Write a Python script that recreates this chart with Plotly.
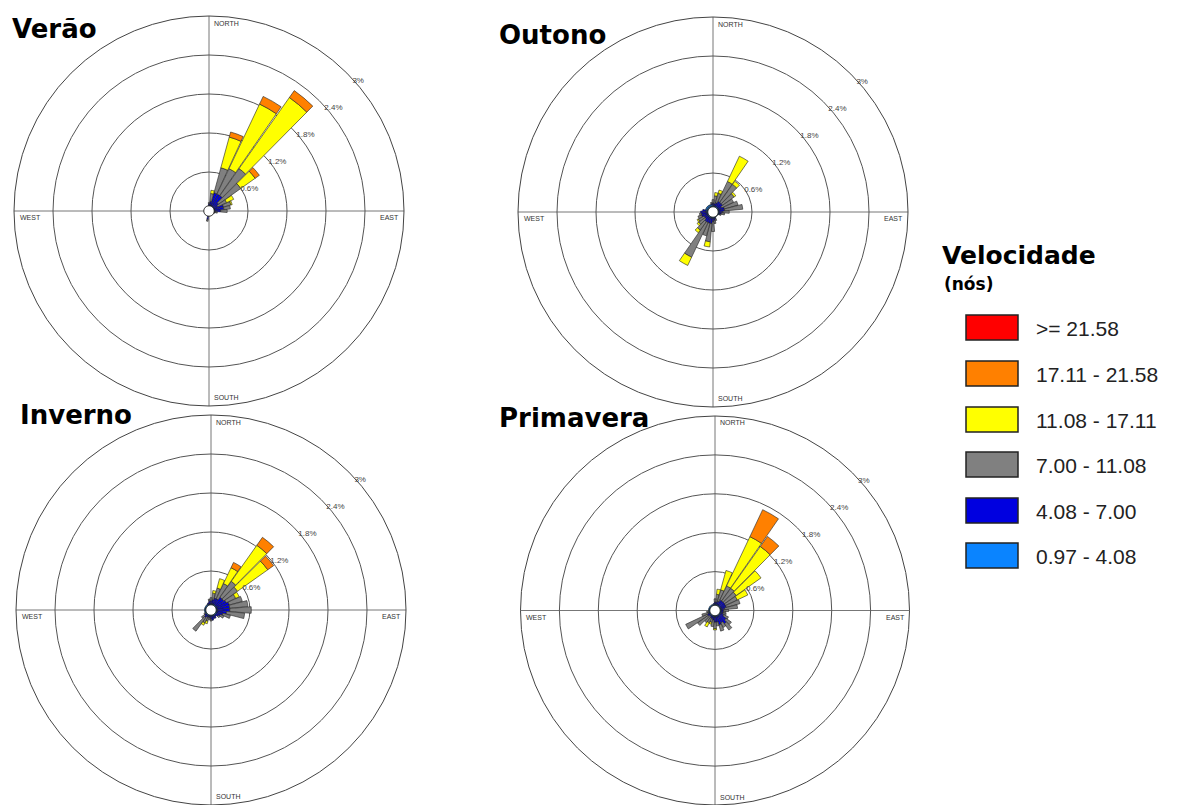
import plotly.graph_objects as go

# ---------------- data ----------------
directions = list(range(10, 361, 10))  # 36 sectors, degrees from north

speed_labels = ["0.97 - 4.08", "4.08 - 7.00", "7.00 - 11.08",
                "11.08 - 17.11", "17.11 - 21.58", ">= 21.58"]
speed_colors = ["#0A84FF", "#0000E0", "#808080", "#FFFF00", "#FF8000", "#FF0000"]

ring_vals = [0.6, 1.2, 1.8, 2.4, 3.0]
ring_text = ["0.6%", "1.2%", "1.8%", "2.4%", "3%"]
calm_radius = 0.08

Z9 = [0] * 9

# Verão (frequencies in % per speed bin, sectors 10..360)
verao_lb = [.09, .09, .09, .09, .09, .09, .09, .09, .09,
            .08, .07, .06, .05, .05, .05, .05, .05, .05,
            .07, .05, .04, .04, .04, .04, .04, .04, .04,
            .04, .04, .04, .04, .04, .04, .05, .06, .08]
verao_blue = [.06, .20, .20, .20, .09, .06, .14, .14, .09,
              .02, 0, 0, 0, 0, 0, 0, 0, 0,
              .06, 0, 0, 0, 0, 0, 0, 0, 0,
              0, 0, 0, 0, 0, 0, 0, 0, .03]
verao_gray = [.12, .40, .43, .51, .42, .15, .12, .10, .10,
              .03, .02, 0, 0, 0, 0, 0, 0, 0,
              .03, 0, 0, 0, 0, 0, 0, 0, 0,
              0, 0, 0, 0, 0, 0, 0, 0, .02]
verao_yellow = [.05, .49, 1.10, 1.34, .27, .12, .02, 0, 0] + Z9 + Z9 + Z9
verao_orange = [0, .08, .13, .13, .08, 0, 0, 0, 0] + Z9 + Z9 + Z9
verao_red = [0] * 36

# Outono
outono_lb = [.10, .10, .10, .10, .10, .10, .10, .10, .10,
             .10, .10, .09, .08, .08, .09, .10, .10, .10,
             .10, .10, .10, .10, .10, .10, .10, .10, .11,
             .11, .12, .12, .12, .12, .12, .12, .12, .11]
outono_blue = [.03, .05, .08, .08, .08, .05, .08, .08, .05,
               .03, .01, 0, 0, 0, 0, .01, .03, .05,
               .08, .08, .08, .08, .05, .05, .08, .08, .08,
               .05, 0, 0, 0, 0, 0, 0, .01, .03]
outono_gray = [.12, .15, .34, .34, .22, .20, .22, .28, .10,
               .05, .02, 0, 0, 0, 0, .03, .05, .15,
               .28, .20, .59, .16, .12, .10, .06, .03, 0,
               0, 0, 0, 0, 0, 0, 0, .02, .05]
outono_yellow = [.05, .05, .43, .06, .03, 0, 0, 0, 0] + Z9 + \
                [.08, 0, .14, .05, .03, .02, 0, 0, 0] + Z9
outono_orange = [0] * 36
outono_red = [0] * 36

# Inverno
inverno_lb = [.10] * 36
inverno_blue = [.06, .09, .09, .14, .14, .16, .19, .19, .19,
                .14, .09, .06, .04, .02, .04, .04, .06, .04,
                .02, .02, .02, .04, .02, 0, 0, 0, 0,
                0, 0, 0, 0, 0, .01, .02, .04, .04]
inverno_gray = [.10, .16, .26, .30, .26, .16, .21, .28, .33,
                .28, .12, .06, .03, 0, 0, 0, 0, .03,
                .03, .06, .10, .26, .06, .02, 0, 0, 0,
                0, 0, 0, 0, 0, 0, 0, .03, .05]
inverno_yellow = [.04, .15, .27, .68, .57, .06, 0, 0, 0] + Z9 + \
                 [0, .04, .04, 0, 0, 0, 0, 0, 0] + Z9
inverno_orange = [0, 0, .09, .15, .11, 0, 0, 0, 0] + Z9 + Z9 + Z9
inverno_red = [0] * 36

# Primavera
primavera_lb = [.10] * 36
primavera_blue = [.03, .05, .08, .08, .08, .08, .08, .05, .03,
                  .03, .03, .05, .11, .15, .11, .13, .08, .08,
                  .05, .03, .03, .01, .03, .03, .01, 0, 0,
                  0, 0, 0, 0, 0, 0, 0, .01, .03]
primavera_gray = [.12, .18, .24, .24, .22, .20, .22, .20, .08,
                  .04, .05, .08, .10, .12, .08, .10, .06, .10,
                  .10, .06, .08, .12, .20, .37, .10, .03, 0,
                  0, 0, 0, 0, 0, 0, 0, 0, .05]
primavera_yellow = [.08, .31, .84, .79, .47, .18, 0, 0, 0] + \
                   [0, 0, 0, 0, 0, 0, 0, 0, .02] + \
                   [0, .03, .07, 0, 0, 0, 0, 0, 0] + Z9
primavera_orange = [0, 0, .46, .19, 0, 0, 0, 0, 0] + Z9 + Z9 + Z9
primavera_red = [0] * 36

season_names = ["Verão", "Outono", "Inverno", "Primavera"]
season_data = [
    [verao_lb, verao_blue, verao_gray, verao_yellow, verao_orange, verao_red],
    [outono_lb, outono_blue, outono_gray, outono_yellow, outono_orange, outono_red],
    [inverno_lb, inverno_blue, inverno_gray, inverno_yellow, inverno_orange, inverno_red],
    [primavera_lb, primavera_blue, primavera_gray, primavera_yellow, primavera_orange, primavera_red],
]

# ---------------- layout geometry (pixels) ----------------
W, H = 1199, 805
R = 195
centers = [(209, 211), (713, 212), (211, 610), (715, 611)]
title_pos = [(10, 29), (497, 35), (18, 415), (497, 418)]

fig = go.Figure()

for k, (name, data) in enumerate(zip(season_names, season_data)):
    pid = "polar" if k == 0 else f"polar{k+1}"
    for vals, lab, col in zip(data, speed_labels, speed_colors):
        fig.add_trace(go.Barpolar(
            r=vals, theta=directions, name=lab, subplot=pid,
            marker=dict(color=col, line=dict(color="#222222", width=0.6)),
            showlegend=False, hoverinfo="skip"))
    fig.add_trace(go.Scatterpolar(
        r=[calm_radius] * 73, theta=list(range(0, 361, 5)), subplot=pid,
        mode="lines", fill="toself", fillcolor="white",
        line=dict(color="#111111", width=1), showlegend=False, hoverinfo="skip"))


def polar_layout(cx, cy):
    return dict(
        domain=dict(x=[(cx - R) / W, (cx + R) / W],
                    y=[max(0, (H - cy - R) / H), min(1, (H - cy + R) / H)]),
        bgcolor="white",
        barmode="stack", bargap=0.06,
        radialaxis=dict(range=[0, 3], tickvals=ring_vals, ticktext=ring_text,
                        showline=False, ticks="", angle=44, tickangle=44,
                        gridcolor="#555555", gridwidth=1,
                        tickfont=dict(size=8, color="#444444", family="Liberation Sans")),
        angularaxis=dict(rotation=90, direction="clockwise", tickmode="linear",
                         tick0=0, dtick=90, showticklabels=False, ticks="",
                         gridcolor="#777777", gridwidth=1,
                         showline=True, linecolor="#444444", linewidth=1),
    )


layout = dict(width=W, height=H, margin=dict(l=0, r=0, t=0, b=0),
              paper_bgcolor="white", plot_bgcolor="white", showlegend=False)
for k, (cx, cy) in enumerate(centers):
    key = "polar" if k == 0 else f"polar{k+1}"
    layout[key] = polar_layout(cx, cy)
fig.update_layout(**layout)

def px(x):
    return x / W

def py(y):
    return 1 - y / H

annotations = []
dir_font = dict(size=7, color="#333333", family="Liberation Sans")
for (cx, cy) in centers:
    annotations += [
        dict(x=px(cx + 3), y=py(cy - R + 7), text="NORTH", xanchor="left", yanchor="middle"),
        dict(x=px(cx + 3), y=py(cy + R - 9), text="SOUTH", xanchor="left", yanchor="middle"),
        dict(x=px(cx + R - 3), y=py(cy + 6), text="EAST", xanchor="right", yanchor="middle"),
        dict(x=px(cx - R + 4), y=py(cy + 6), text="WEST", xanchor="left", yanchor="middle"),
    ]
for a in annotations:
    a.update(xref="paper", yref="paper", showarrow=False, font=dir_font)

for name, (tx, ty) in zip(season_names, title_pos):
    annotations.append(dict(x=px(tx), y=py(ty), xref="paper", yref="paper",
                            text=f"<b>{name}</b>", showarrow=False,
                            xanchor="left", yanchor="middle",
                            font=dict(size=26, color="black", family="DejaVu Sans")))

# legend (drawn manually)
annotations.append(dict(x=px(940), y=py(255), xref="paper", yref="paper",
                        text="<b>Velocidade</b>", showarrow=False, xanchor="left",
                        yanchor="middle", font=dict(size=25, color="black", family="DejaVu Sans")))
annotations.append(dict(x=px(942), y=py(284), xref="paper", yref="paper",
                        text="<b>(nós)</b>", showarrow=False, xanchor="left",
                        yanchor="middle", font=dict(size=17, color="black", family="DejaVu Sans")))
shapes = []
legend_tops = [315, 361, 407, 452, 498, 543]
for top, lab, col in zip(legend_tops, speed_labels[::-1], speed_colors[::-1]):
    shapes.append(dict(type="rect", xref="paper", yref="paper",
                       x0=px(966), x1=px(1018), y0=py(top + 25), y1=py(top),
                       fillcolor=col, line=dict(color="#222222", width=1.5)))
    annotations.append(dict(x=px(1034), y=py(top + 13), xref="paper", yref="paper",
                            text=lab, showarrow=False, xanchor="left", yanchor="middle",
                            font=dict(size=21, color="#222222", family="Liberation Sans")))

fig.update_layout(annotations=annotations, shapes=shapes)

fig.write_html("out.html", config={"displayModeBar": False},
               post_script="document.body.style.margin='0';document.body.style.overflow='hidden';")
